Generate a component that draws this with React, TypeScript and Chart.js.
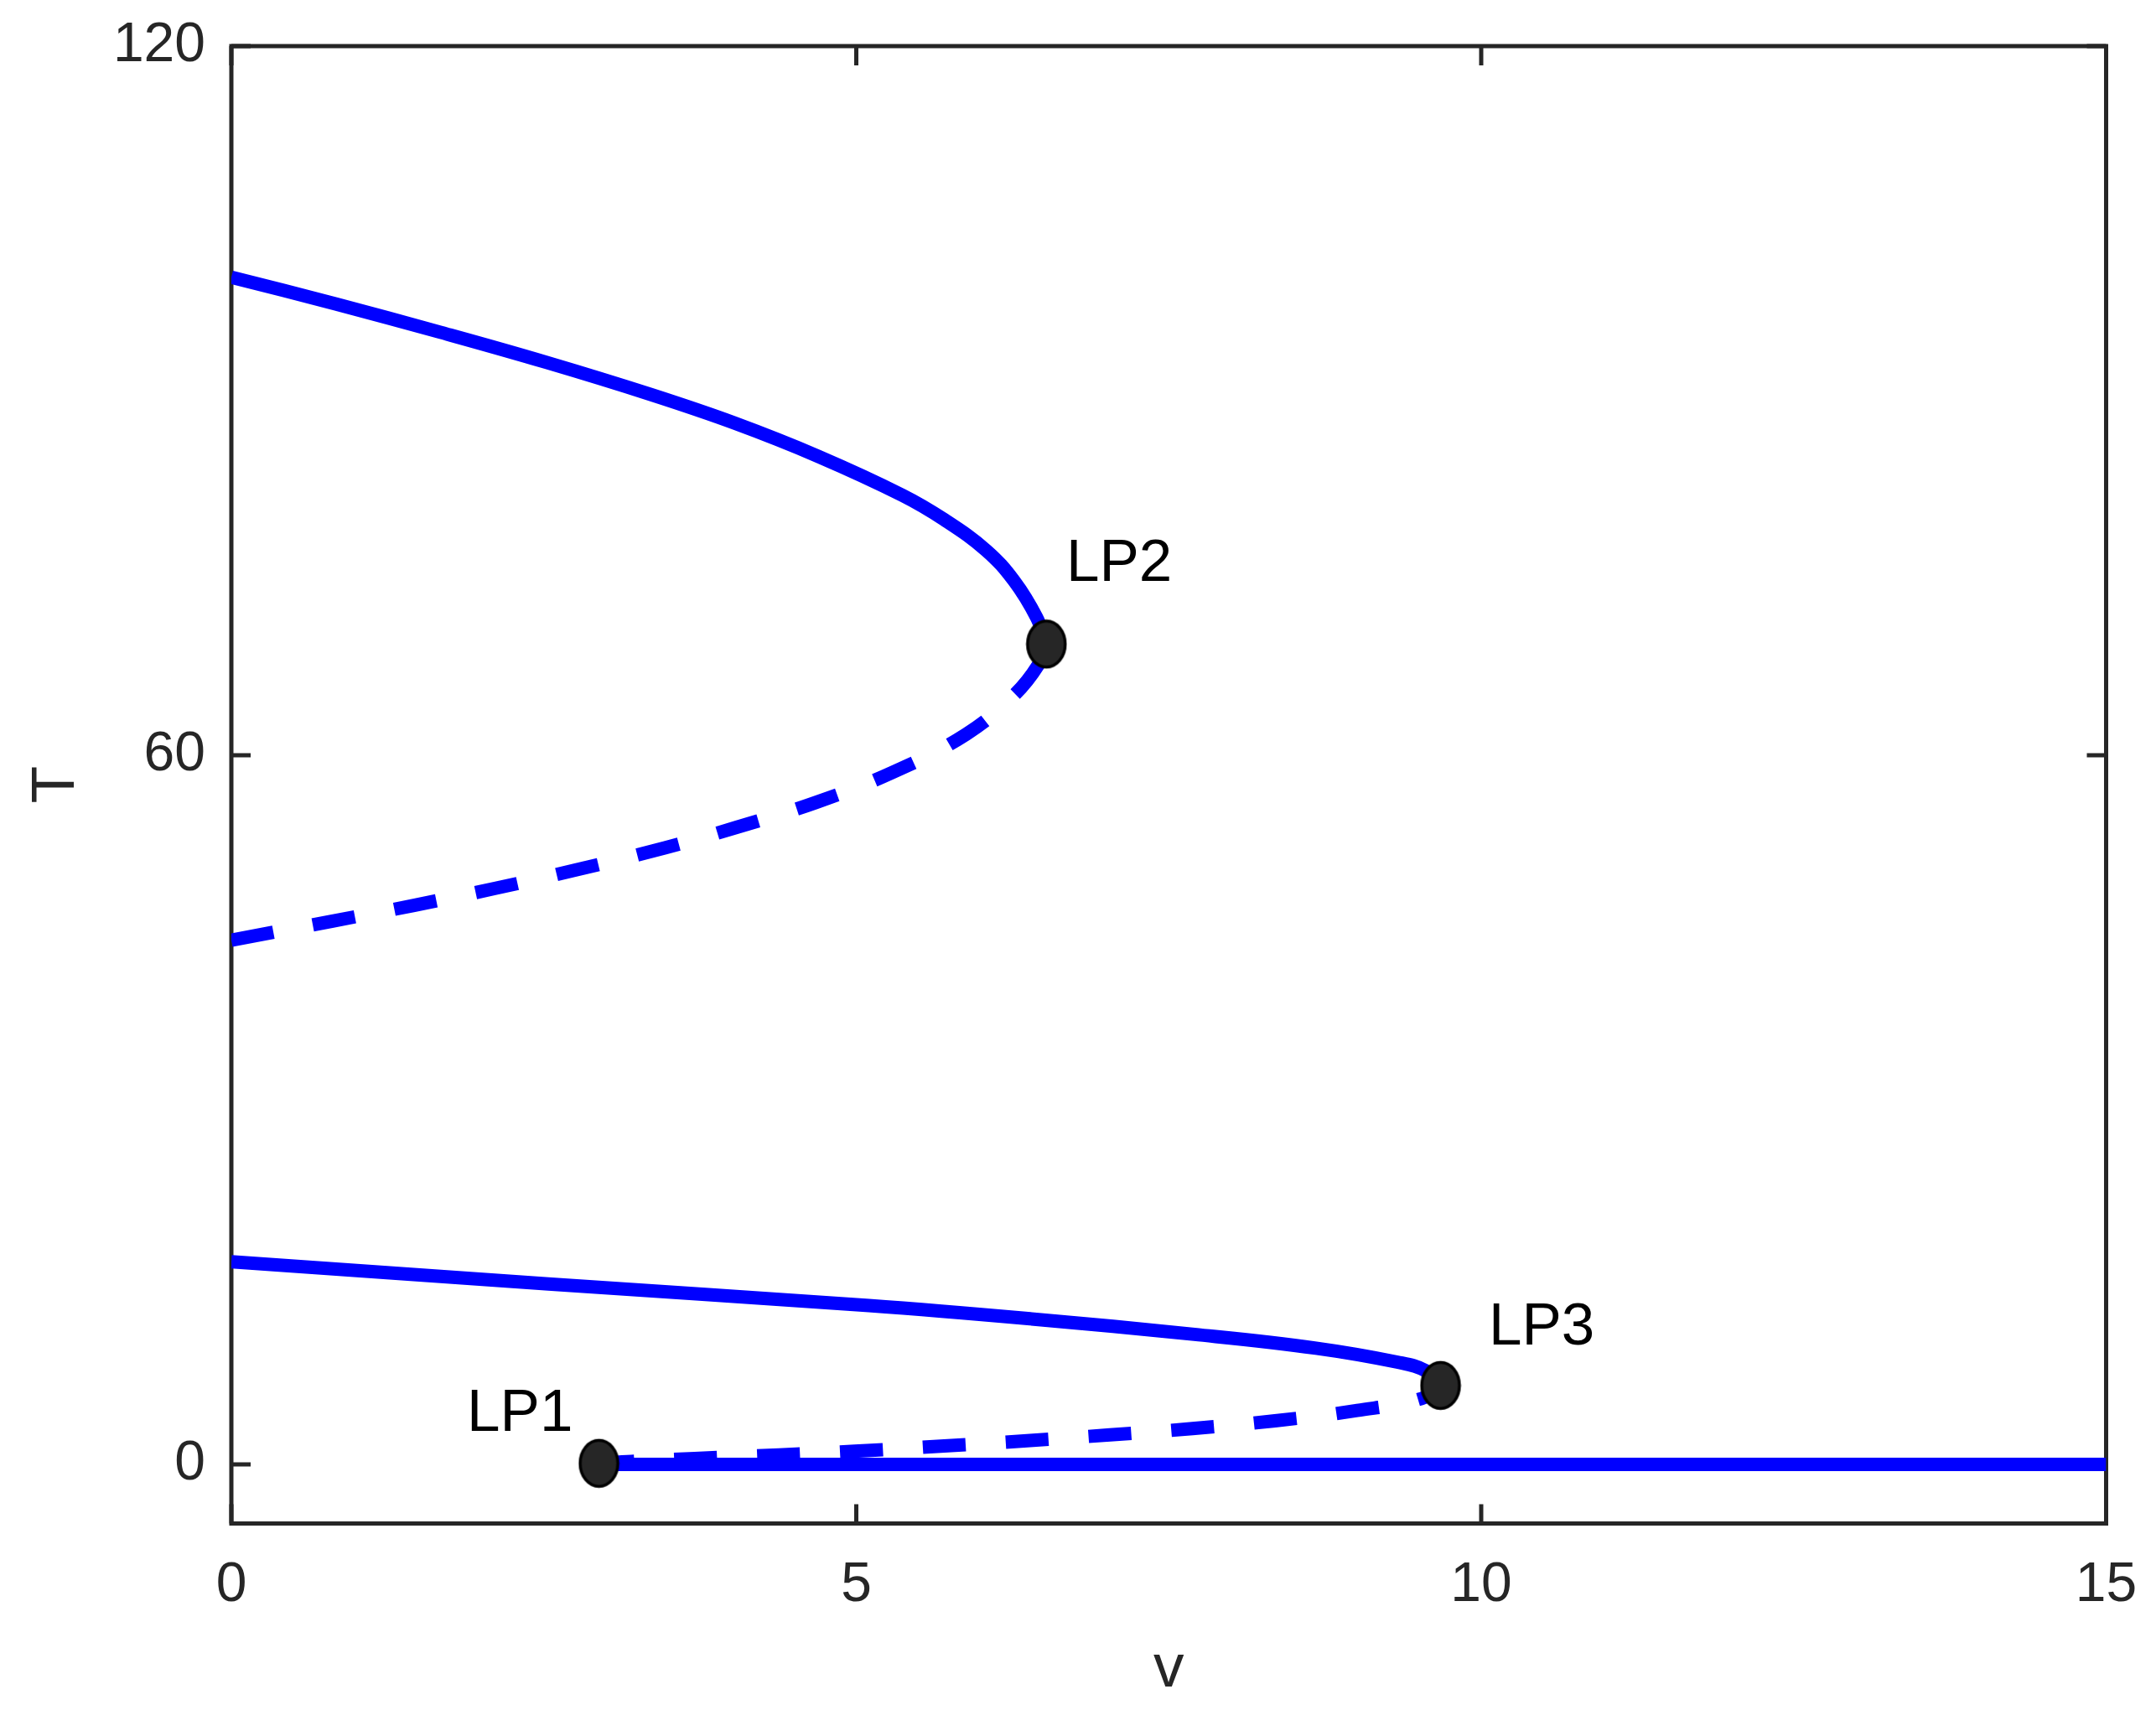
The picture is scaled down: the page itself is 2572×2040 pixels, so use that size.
import React, { useEffect, useRef } from 'react';
import { Chart, registerables } from 'chart.js';

Chart.register(...registerables);

// ---- Data ----
const xTicks = [0, 5, 10, 15];
const yTicks = [0, 60, 120];

// upper stable branch (solid)
const upperStableV = [0, 0.839, 1.678, 2.517, 3.356, 4.027, 4.698, 5.369, 5.705, 6.04, 6.264, 6.443, 6.521];
const upperStableT = [100.45, 98.17, 95.77, 93.25, 90.52, 88.1, 85.28, 82.0, 79.93, 77.33, 74.73, 71.65, 69.41];

// upper unstable branch (dashed)
const upperUnstableV = [0, 0.81, 1.461, 2.112, 2.758, 3.468, 4.042, 4.676, 5.293, 5.879, 6.264, 6.454, 6.521];
const upperUnstableT = [44.35, 45.97, 47.3, 48.74, 50.3, 52.16, 53.9, 56.0, 58.56, 61.78, 65.1, 67.6, 69.41];

// lower stable branch (solid)
const lowerStableV = [0, 2.537, 5.101, 6.403, 7.705, 8.678, 9.329, 9.55, 9.675];
const lowerStableT = [17.15, 15.26, 13.44, 12.31, 11.0, 9.83, 8.65, 7.95, 6.68];

// lower unstable branch (dashed)
const lowerUnstableV = [2.941, 3.2, 3.709, 4.379, 4.987, 5.703, 6.366, 7.03, 7.69, 8.35, 9.008, 9.525, 9.675];
const lowerUnstableT = [0.09, 0.25, 0.5, 0.8, 1.11, 1.56, 2.0, 2.5, 3.03, 3.69, 4.56, 5.58, 6.68];

// trivial branch T = 0 (solid)
const trivialV = [2.941, 15];
const trivialT = [0, 0];

// limit points
const lpNames = ['LP1', 'LP2', 'LP3'];
const lpV = [2.941, 6.521, 9.675];
const lpT = [0.09, 69.41, 6.68];
// label anchors (left / baseline), in data units
const lpLabelV = [1.885, 6.68, 10.06];
const lpLabelT = [2.82, 74.77, 10.14];

const FONT = "'Liberation Sans', Arial, Helvetica, sans-serif";
const AXIS_COLOR = '#262626';
const BLUE = '#0000ff';

const zip = (xs: number[], ys: number[]) => xs.map((x, i) => ({ x, y: ys[i] }));

function makeMarker(): HTMLCanvasElement {
  const c = document.createElement('canvas');
  c.width = 50;
  c.height = 60;
  const g = c.getContext('2d')!;
  g.beginPath();
  g.ellipse(25, 30, 22.5, 27.5, 0, 0, Math.PI * 2);
  g.fillStyle = '#262626';
  g.fill();
  g.lineWidth = 3.5;
  g.strokeStyle = '#000000';
  g.stroke();
  return c;
}

const framePlugin = {
  id: 'matlabFrame',
  beforeDatasetsDraw(chart: any) {
    const { ctx, chartArea } = chart;
    const { left, right, top, bottom } = chartArea;
    const xs = chart.scales.x;
    const ys = chart.scales.y;
    const tick = 23;
    ctx.save();
    ctx.strokeStyle = AXIS_COLOR;
    ctx.lineWidth = 5;
    ctx.lineCap = 'butt';
    ctx.beginPath();
    xTicks.forEach((v) => {
      const px = xs.getPixelForValue(v);
      ctx.moveTo(px, bottom);
      ctx.lineTo(px, bottom - tick);
      ctx.moveTo(px, top);
      ctx.lineTo(px, top + tick);
    });
    yTicks.forEach((v) => {
      const py = ys.getPixelForValue(v);
      ctx.moveTo(left, py);
      ctx.lineTo(left + tick, py);
      ctx.moveTo(right, py);
      ctx.lineTo(right - tick, py);
    });
    ctx.stroke();
    ctx.strokeRect(left, top, right - left, bottom - top);
    ctx.restore();
  },
  afterDraw(chart: any) {
    const { ctx } = chart;
    const xs = chart.scales.x;
    const ys = chart.scales.y;
    ctx.save();
    ctx.fillStyle = '#000000';
    ctx.font = `71px ${FONT}`;
    ctx.textAlign = 'left';
    ctx.textBaseline = 'alphabetic';
    lpNames.forEach((name, i) => {
      ctx.fillText(name, xs.getPixelForValue(lpLabelV[i]), ys.getPixelForValue(lpLabelT[i]));
    });
    ctx.restore();
  },
};

const zeroPad = (s: any) => {
  s.paddingTop = 0;
  s.paddingBottom = 0;
  s.paddingLeft = 0;
  s.paddingRight = 0;
};

export default function App() {
  const ref = useRef<HTMLCanvasElement | null>(null);

  useEffect(() => {
    if (!ref.current) return;
    const marker = makeMarker();
    const lineBase = {
      showLine: true,
      borderColor: BLUE,
      backgroundColor: BLUE,
      borderWidth: 16,
      pointRadius: 0,
      tension: 0.4,
      fill: false,
      clip: 0,
      borderCapStyle: 'butt' as const,
      borderJoinStyle: 'round' as const,
    };
    const chart = new Chart(ref.current, {
      type: 'scatter',
      data: {
        datasets: [
          {
            label: 'limit points',
            data: zip(lpV, lpT),
            showLine: false,
            pointStyle: marker as any,
            pointRadius: 28,
            clip: false as any,
            order: 0,
          },
          { ...lineBase, label: 'trivial', data: zip(trivialV, trivialT), order: 1 },
          { ...lineBase, label: 'upper stable', data: zip(upperStableV, upperStableT), order: 1 },
          { ...lineBase, label: 'lower stable', data: zip(lowerStableV, lowerStableT), order: 1 },
          {
            ...lineBase,
            label: 'upper unstable',
            data: zip(upperUnstableV, upperUnstableT),
            borderDash: [51, 48],
            order: 2,
          },
          {
            ...lineBase,
            label: 'lower unstable',
            data: zip(lowerUnstableV, lowerUnstableT),
            borderDash: [51, 48],
            borderDashOffset: 9,
            order: 2,
          },
        ] as any,
      },
      options: {
        responsive: false,
        maintainAspectRatio: false,
        animation: false,
        events: [],
        layout: { padding: { top: 55, right: 59.5, left: 0, bottom: 0 } },
        plugins: {
          legend: { display: false },
          tooltip: { enabled: false },
        },
        scales: {
          x: {
            type: 'linear',
            position: 'bottom',
            min: 0,
            max: 15,
            afterBuildTicks: (s: any) => {
              s.ticks = xTicks.map((v) => ({ value: v }));
            },
            afterFit: (s: any) => {
              s.height = 222.5;
              zeroPad(s);
            },
            grid: { display: false, drawTicks: false },
            border: { display: false },
            ticks: {
              font: { family: FONT, size: 66 },
              color: AXIS_COLOR,
              padding: 35,
              maxRotation: 0,
              autoSkip: false,
            },
            title: {
              display: true,
              text: 'v',
              font: { family: FONT, size: 73 },
              color: AXIS_COLOR,
              padding: { top: 0, bottom: 4.5 },
            },
          },
          y: {
            type: 'linear',
            position: 'left',
            min: -5,
            max: 120,
            afterBuildTicks: (s: any) => {
              s.ticks = yTicks.map((v) => ({ value: v }));
            },
            afterFit: (s: any) => {
              s.width = 276;
              zeroPad(s);
            },
            grid: { display: false, drawTicks: false },
            border: { display: false },
            ticks: {
              font: { family: FONT, size: 66 },
              color: AXIS_COLOR,
              padding: 31,
              autoSkip: false,
            },
            title: {
              display: true,
              text: 'T',
              font: { family: FONT, size: 73 },
              color: AXIS_COLOR,
              padding: { top: 24.4, bottom: 0 },
            },
          },
        },
      },
      plugins: [framePlugin],
    });
    return () => chart.destroy();
  }, []);

  return (
    <div style={{ position: 'absolute', left: 0, top: 0, width: 2572, height: 2040, background: '#ffffff' }}>
      <canvas ref={ref} width={2572} height={2040} style={{ display: 'block', width: 2572, height: 2040 }} />
    </div>
  );
}
